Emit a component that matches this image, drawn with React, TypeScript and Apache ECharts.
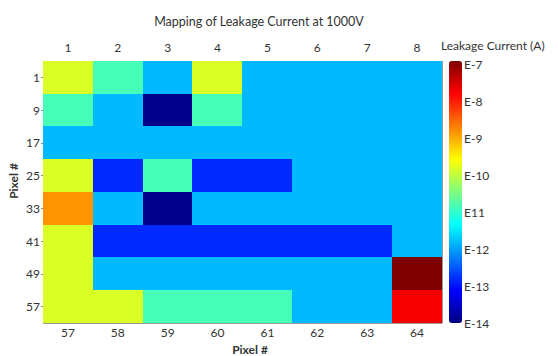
import React, { useEffect, useRef } from "react";
import * as echarts from "echarts";

const topLabels = ["1", "2", "3", "4", "5", "6", "7", "8"];
const bottomLabels = ["57", "58", "59", "60", "61", "62", "63", "64"];
const rowLabels = ["1", "9", "17", "25", "33", "41", "49", "57"];

// Leakage current (A) per pixel, rows top to bottom, columns left to right
const row1 = [1.5e-10, 1.4e-11, 1.5e-12, 1.5e-10, 1.5e-12, 1.5e-12, 1.5e-12, 1.5e-12];
const row9 = [1.4e-11, 1.5e-12, 1.2e-14, 1.4e-11, 1.5e-12, 1.5e-12, 1.5e-12, 1.5e-12];
const row17 = [1.5e-12, 1.5e-12, 1.5e-12, 1.5e-12, 1.5e-12, 1.5e-12, 1.5e-12, 1.5e-12];
const row25 = [1.5e-10, 1.5e-13, 1.4e-11, 1.5e-13, 1.5e-13, 1.5e-12, 1.5e-12, 1.5e-12];
const row33 = [1.5e-9, 1.5e-12, 1.2e-14, 1.5e-12, 1.5e-12, 1.5e-12, 1.5e-12, 1.5e-12];
const row41 = [1.5e-10, 1.5e-13, 1.5e-13, 1.5e-13, 1.5e-13, 1.5e-13, 1.5e-13, 1.5e-12];
const row49 = [1.5e-10, 1.5e-12, 1.5e-12, 1.5e-12, 1.5e-12, 1.5e-12, 1.5e-12, 1.3e-7];
const row57 = [1.5e-10, 1.5e-10, 1.4e-11, 1.4e-11, 1.4e-11, 1.5e-12, 1.5e-12, 1.8e-8];
const rows = [row1, row9, row17, row25, row33, row41, row49, row57];

const colorbarMin = -14;
const colorbarMax = -6.9;
const jet = ["#00007f", "#0000ff", "#007fff", "#00ffff", "#7fff7f", "#ffff00", "#ff7f00", "#ff0000", "#7f0000"];

const FONT = "Lato, 'Open Sans', sans-serif";
const TXT = "#333333";

export default function App() {
  const ref = useRef<HTMLDivElement>(null);
  useEffect(() => {
    if (!ref.current) return;
    const chart = echarts.init(ref.current, undefined, { renderer: "svg" });
    const data: number[][] = [];
    rows.forEach((r, yi) => r.forEach((v, xi) => data.push([xi, yi, Math.log10(v)])));
    chart.setOption({
      animation: false,
      backgroundColor: "#ffffff",
      textStyle: { fontFamily: FONT },
      title: [
        {
          text: "Mapping of Leakage Current at 1000V",
          left: 259,
          top: 15,
          textAlign: "center",
          padding: 0,
          textStyle: { fontSize: 12.5, fontWeight: "normal", color: TXT, fontFamily: FONT },
        },
        {
          text: "Leakage Current (A)",
          left: 441,
          top: 39,
          padding: 0,
          textStyle: { fontSize: 12, fontWeight: "normal", color: TXT, fontFamily: FONT },
        },
      ],
      grid: [
        { left: 43, top: 61, width: 399, height: 262, containLabel: false },
        { left: 449, top: 61, width: 13, height: 262, containLabel: false },
      ],
      xAxis: [
        {
          type: "category",
          gridIndex: 0,
          position: "bottom",
          data: bottomLabels,
          axisLine: { show: true, lineStyle: { color: "#999", width: 1 } },
          axisTick: { show: false },
          axisLabel: { margin: 3, fontSize: 12, color: TXT, fontFamily: FONT },
          splitLine: { show: false },
        },
        {
          type: "category",
          gridIndex: 0,
          position: "top",
          data: topLabels,
          axisLine: { show: true, lineStyle: { color: "#999", width: 1 } },
          axisTick: { show: true, inside: true, length: 3, alignWithLabel: true, lineStyle: { color: "#888" } },
          axisLabel: { margin: 8, fontSize: 12, color: TXT, fontFamily: FONT },
          splitLine: { show: false },
        },
        { type: "value", gridIndex: 1, show: false, min: 0, max: 1 },
      ],
      yAxis: [
        {
          type: "category",
          gridIndex: 0,
          position: "left",
          inverse: true,
          data: rowLabels,
          axisLine: { show: true, lineStyle: { color: "#999", width: 1 } },
          axisTick: { show: true, length: 2, alignWithLabel: true, lineStyle: { color: "#888" } },
          axisLabel: { margin: 3, fontSize: 12, color: TXT, fontFamily: FONT },
          splitLine: { show: false },
        },
        {
          type: "category",
          gridIndex: 0,
          position: "right",
          inverse: true,
          data: rowLabels,
          axisLine: { show: true, lineStyle: { color: "#999", width: 1 } },
          axisTick: { show: false },
          axisLabel: { show: false },
          splitLine: { show: false },
        },
        {
          type: "value",
          gridIndex: 1,
          position: "right",
          min: colorbarMin,
          max: colorbarMax,
          interval: 1,
          axisLine: { show: false },
          axisTick: { show: false },
          splitLine: { show: false },
          axisLabel: {
            margin: 2,
            fontSize: 12,
            color: TXT,
            fontFamily: FONT,
            showMaxLabel: false,
            formatter: (v: number) => {
              if (!Number.isInteger(v)) return "";
              return v === -11 ? "E11" : "E" + v;
            },
          },
        },
      ],
      visualMap: {
        type: "continuous",
        min: colorbarMin,
        max: colorbarMax,
        orient: "vertical",
        left: 449,
        top: 61,
        itemWidth: 13,
        itemHeight: 262,
        padding: 0,
        calculable: false,
        hoverLink: false,
        seriesIndex: 0,
        inRange: { color: jet },
      },
      graphic: [
        {
          type: "text",
          x: 13,
          y: 181,
          rotation: Math.PI / 2,
          style: {
            text: "Pixel #",
            textAlign: "center",
            textVerticalAlign: "middle",
            font: "bold 12px " + FONT,
            fill: TXT,
          },
        },
        {
          type: "text",
          x: 250,
          y: 349,
          style: {
            text: "Pixel #",
            textAlign: "center",
            textVerticalAlign: "middle",
            font: "bold 12px " + FONT,
            fill: TXT,
          },
        },
      ],
      series: [
        {
          type: "heatmap",
          xAxisIndex: 0,
          yAxisIndex: 0,
          data,
          itemStyle: { borderWidth: 0 },
          emphasis: { disabled: true },
        },
      ],
    });
    return () => chart.dispose();
  }, []);
  return (
    <>
      <style>{".hm svg path { shape-rendering: crispEdges; }"}</style>
      <div className="hm" ref={ref} style={{ width: 558, height: 356, position: "fixed", left: 0, top: 0 }} />
    </>
  );
}
